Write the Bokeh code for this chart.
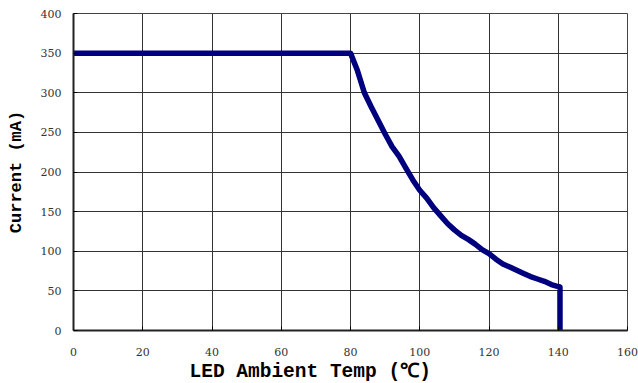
from bokeh.plotting import figure
from bokeh.models import Range1d, FixedTicker, Title
from bokeh.embed import file_html
from bokeh.resources import INLINE

# Derating curve: ambient temperature (°C) vs. output current (mA)
temp_c = [0, 80, 82, 84, 86, 88, 90, 92, 94, 96, 98, 100, 102, 104, 106, 108,
          110, 112, 114, 116, 118, 120, 122, 124, 126, 128, 130, 132, 134,
          136, 138, 139.5, 140.5, 140.5]
current_ma = [350, 350, 328, 300, 282, 265, 248, 232, 220, 205, 190, 177, 167,
              155, 145, 135, 127, 120, 115, 109, 102, 97, 90, 84, 80, 76, 72,
              68, 65, 62, 58, 56, 55, 0]

x_ticks = [0, 20, 40, 60, 80, 100, 120, 140, 160]
y_ticks = [0, 50, 100, 150, 200, 250, 300, 350, 400]

p = figure(width=638, height=383, output_backend="svg", toolbar_location=None,
           x_range=Range1d(0, 160), y_range=Range1d(0, 400),
           min_border_left=73, min_border_right=11, min_border_top=13,
           min_border_bottom=53)

p.line(temp_c, current_ma, line_color="#00007f", line_width=5.5, line_join="round")

for ax in (p.xaxis[0], p.yaxis[0]):
    ax.major_label_text_font = "DejaVu Serif"
    ax.major_label_text_font_size = "11px"
    ax.major_label_text_color = "#333333"
    ax.minor_tick_line_color = None
    ax.major_tick_out = 0
    ax.major_tick_in = 4
    ax.axis_line_width = 2
    ax.axis_line_color = "#222222"

p.xaxis.ticker = FixedTicker(ticks=x_ticks)
p.yaxis.ticker = FixedTicker(ticks=y_ticks)
p.xaxis.major_label_standoff = 17
p.yaxis.major_label_standoff = 12

p.yaxis.axis_label = "Current (mA)"
p.yaxis.axis_label_text_font = "Liberation Mono"
p.yaxis.axis_label_text_font_style = "bold"
p.yaxis.axis_label_text_font_size = "17px"
p.yaxis.axis_label_text_color = "#000000"
p.yaxis.axis_label_standoff = 12

p.add_layout(Title(text="LED Ambient Temp (℃)", text_font="Liberation Mono",
                   text_font_style="bold", text_font_size="19.5px",
                   text_color="#000000", align="left", offset=116,
                   standoff=0), "below")

p.xgrid.grid_line_color = "#333333"
p.ygrid.grid_line_color = "#333333"
p.xgrid.grid_line_width = 1
p.ygrid.grid_line_width = 1
p.outline_line_color = "#444444"
p.outline_line_width = 1

open("out.html", "w").write(file_html(p, INLINE))
